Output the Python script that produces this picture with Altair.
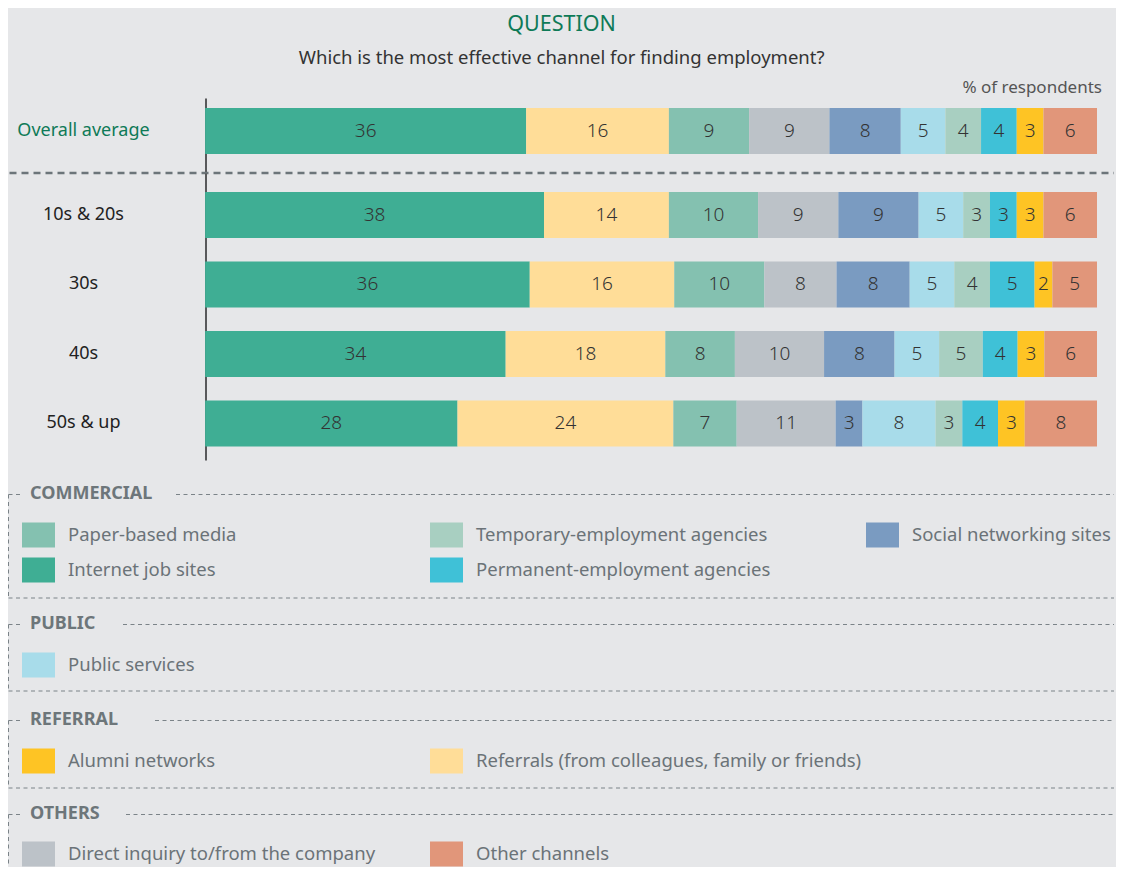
import altair as alt
import pandas as pd

# ---------------- data ----------------
rows = ["Overall average", "10s & 20s", "30s", "40s", "50s & up"]
channels = [
    "Internet job sites",
    "Referrals (from colleagues, family or friends)",
    "Paper-based media",
    "Direct inquiry to/from the company",
    "Social networking sites",
    "Public services",
    "Temporary-employment agencies",
    "Permanent-employment agencies",
    "Alumni networks",
    "Other channels",
]
colors = ["#3fae94", "#ffdd98", "#84c1b0", "#bcc2c8", "#7a9bc1",
          "#a8dcea", "#a8cfc1", "#3fc1d7", "#fec424", "#e1967a"]

overall = [36, 16, 9, 9, 8, 5, 4, 4, 3, 6]
age_10s_20s = [38, 14, 10, 9, 9, 5, 3, 3, 3, 6]
age_30s = [36.4, 16.2, 10.1, 8.1, 8.2, 5.0, 4.0, 5.0, 2.0, 5.0]
age_40s = [33.7, 17.9, 7.8, 10.0, 7.9, 5.0, 4.9, 3.9, 3.0, 5.9]
age_50s_up = [28.3, 24.2, 7.1, 11.1, 3.0, 8.2, 3.0, 4.0, 3.0, 8.1]

legend_groups = ["COMMERCIAL", "PUBLIC", "REFERRAL", "OTHERS"]
commercial_items = ["Paper-based media", "Internet job sites",
                    "Temporary-employment agencies", "Permanent-employment agencies",
                    "Social networking sites"]
public_items = ["Public services"]
referral_items = ["Alumni networks", "Referrals (from colleagues, family or friends)"]
others_items = ["Direct inquiry to/from the company", "Other channels"]

title_text = "QUESTION"
subtitle_text = "Which is the most effective channel for finding employment?"
unit_text = "% of respondents"

# ---------------- styling ----------------
FONT = "Noto Sans"
BG = "#e6e7e9"
GREEN = "#0e7a57"
GREY = "#6b7378"
DARK = "#333333"
RIGHT = 1106

color_scale = alt.Scale(domain=channels, range=colors)
x_scale = alt.Scale(domain=[-22.1, 100], nice=False, zero=False)
ONE = alt.Data(values=[{}])


def long_table(names, series):
    recs = []
    for name, vals in zip(names, series):
        for i, (ch, v) in enumerate(zip(channels, vals)):
            recs.append({"row": name, "channel": ch, "idx": i, "value": v})
    return pd.DataFrame(recs)


def bar_chart(df, order, height, yscale, label_color, title=None, sep=False):
    base = alt.Chart(df).transform_stack(
        stack="value", groupby=["row"], as_=["v0", "v1"],
        sort=[alt.SortField("idx", order="ascending")],
    ).transform_calculate(mid="(datum.v0 + datum.v1) / 2")
    y = alt.Y("row:N", sort=order, scale=yscale, title=None,
              axis=alt.Axis(orient="left", offset=-197.5, domain=True,
                            domainColor="#58595b", domainWidth=2,
                            ticks=False, tickSize=0, labelPadding=122.5,
                            labelAlign="center", labelBaseline="middle",
                            labelFontSize=18, labelColor=label_color,
                            labelFont=FONT, grid=False))
    bars = base.mark_bar(strokeWidth=0).encode(
        x=alt.X("v0:Q", scale=x_scale, axis=None),
        x2="v1:Q",
        y=y,
        color=alt.Color("channel:N", scale=color_scale, legend=None),
    )
    text = base.mark_text(fontSize=19, fontWeight=300, color=DARK, font=FONT,
                          align="center", baseline="middle").encode(
        x=alt.X("mid:Q", scale=x_scale, axis=None),
        y=alt.Y("row:N", sort=order),
        text=alt.Text("value:Q", format=".0f"),
    )
    layers = [bars, text]
    if sep:
        rule = alt.Chart(ONE).mark_rule(
            color="#6c757a", strokeWidth=2.5, strokeDash=[7, 5]
        ).encode(x=alt.value(1.5), x2=alt.value(RIGHT), y=alt.value(height))
        layers.append(rule)
    ch = alt.layer(*layers).properties(width=1089, height=height)
    if title is not None:
        ch = ch.properties(title=title)
    return ch


top_df = long_table(rows[:1], [overall])
age_df = long_table(rows[1:], [age_10s_20s, age_30s, age_40s, age_50s_up])

top_chart = bar_chart(
    top_df, rows[:1], 75,
    alt.Scale(paddingInner=0, paddingOuter=0.3152, align=0.345),
    GREEN,
    title=alt.TitleParams(unit_text, anchor="end", frame="group", fontSize=17,
                          fontWeight="normal", color="#555555", font=FONT,
                          offset=1.5, dx=5),
    sep=True,
)
age_chart = bar_chart(
    age_df, rows[1:], 287,
    alt.Scale(paddingInner=0.3381, paddingOuter=0.2338, align=0.5846),
    "#222222",
)


def legend_section(name, items, nrows, top, height, box_h, line_start,
                   row0=41, closed=True):
    df = pd.DataFrame({
        "item": items,
        "col": [i // nrows for i in range(len(items))],
        "r": [i % nrows for i in range(len(items))],
    })
    x = alt.X("col:Q", scale=alt.Scale(domain=[0, 1, 2], range=[14, 422, 858]), axis=None)
    y = alt.Y("r:Q", scale=alt.Scale(domain=[0, 1], range=[top + row0, top + row0 + 35]),
              axis=None)
    base = alt.Chart(df)
    sw = base.mark_point(shape="M0,-1H2.64V1H0Z", filled=True, size=625,
                         opacity=1, strokeWidth=0).encode(
        x=x, y=y, color=alt.Color("item:N", scale=color_scale, legend=None))
    tx = base.mark_text(align="left", baseline="middle", dx=46, fontSize=18.5,
                        color=GREY, font=FONT).encode(x=x, y=y, text="item:N")
    head = alt.Chart(pd.DataFrame({"group": [name]})).mark_text(
        align="left", baseline="middle", fontSize=18, fontWeight="bold",
        color="#6d767a", font=FONT,
    ).encode(text="group:N", x=alt.value(22), y=alt.value(top))
    dash = dict(color="#7b8388", strokeWidth=1, strokeDash=[4, 3.5])
    lines = [
        alt.Chart(ONE).mark_rule(**dash).encode(
            x=alt.value(0.5), x2=alt.value(14), y=alt.value(top + 0.5)),
        alt.Chart(ONE).mark_rule(**dash).encode(
            x=alt.value(line_start), x2=alt.value(RIGHT), y=alt.value(top + 0.5)),
        alt.Chart(ONE).mark_rule(**dash).encode(
            x=alt.value(0.5), y=alt.value(top + 0.5), y2=alt.value(top + box_h)),
    ]
    if closed:
        lines.append(alt.Chart(ONE).mark_rule(**dash).encode(
            x=alt.value(0.5), x2=alt.value(RIGHT), y=alt.value(top + box_h)))
    return alt.layer(sw, tx, head, *lines).properties(width=RIGHT, height=height)


leg_comm = legend_section(legend_groups[0], commercial_items, 2, 34, 164, 104, 168)
leg_pub = legend_section(legend_groups[1], public_items, 1, 0, 96, 67, 115)
leg_ref = legend_section(legend_groups[2], referral_items, 1, 0, 94, 68, 147)
leg_oth = legend_section(legend_groups[3], others_items, 1, 0, 52, 52, 118,
                         row0=40, closed=False)

chart = alt.vconcat(
    top_chart, age_chart, leg_comm, leg_pub, leg_ref, leg_oth,
    spacing=0, bounds="flush",
).properties(
    title=alt.TitleParams(
        title_text, subtitle=subtitle_text, anchor="middle",
        fontSize=21.5, fontWeight="normal", color=GREEN, font=FONT,
        subtitleFontSize=18.5, subtitleColor=DARK, subtitleFont=FONT,
        subtitlePadding=13.2, offset=11.2,
    ),
    padding={"top": 6, "left": 0, "right": 0, "bottom": 0},
    background=BG,
).configure(font=FONT).configure_view(stroke=None)

chart.save("out.html", embed_options={"renderer": "svg", "actions": False})
